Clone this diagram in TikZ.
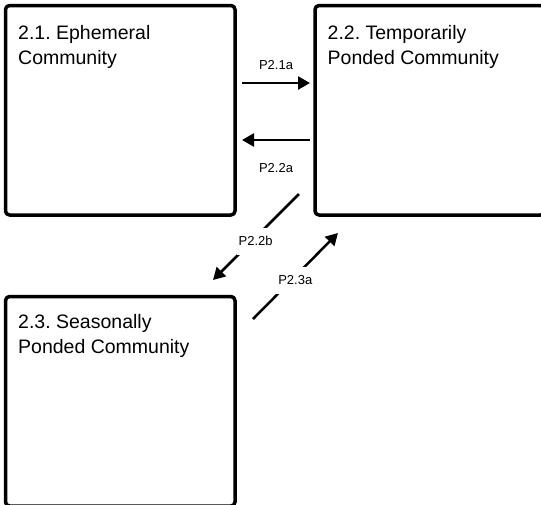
\documentclass[tikz,border=0pt]{standalone}
\usepackage{fontspec}
\setmainfont{Liberation Sans}
\usetikzlibrary{arrows.meta}
\frenchspacing
\begin{document}
\begin{tikzpicture}[x=1pt,y=-1pt,>={Triangle[length=12pt,width=13pt]}, line join=round,
	box/.style={draw,line width=3.5pt,rounded corners=4pt,minimum width=229.5pt,minimum height=209.5pt,inner sep=0pt,outer sep=0pt,anchor=north west},
	title/.style={anchor=north west,align=left,inner sep=0pt,font=\fontsize{19.5}{25}\selectfont},
	flow/.style={->,line width=2.5pt},
	plab/.style={font=\fontsize{13}{15}\selectfont,inner sep=0pt},
	onlab/.style={plab,fill=white,inner xsep=2pt,inner ysep=9pt,xshift=4pt}]
			\useasboundingbox (0,0) rectangle (541,504);
			\clip (0,0) rectangle (541,504);
			% Hộp
			\foreach \n/\x/\y in {ephem/5.5/5.5, temp/315/5.5, seas/5.5/296.5}
			\node[box] (\n) at (\x,\y) {};
			\node[title] (ephemT) at ([shift={(12.5,19.5)}]ephem.north west) {2.1. Ephemeral\\Community};
			\node[title] (tempT) at ([shift={(12.5,19.5)}]temp.north west) {2.2. Temporarily\\Ponded Community};
			\node[title] (seasT) at ([shift={(12.5,17.5)}]seas.north west) {2.3. Seasonally\\Ponded Community};
			% Mũi tên
			\coordinate (p21s) at (242,83); \coordinate (p21e) at (310,83);
			\coordinate (p22s) at (310,140); \coordinate (p22e) at (242,140);
			\coordinate (p22bs) at (299,194); \coordinate (p22be) at (213,280);
			\coordinate (p23s) at (253,319); \coordinate (p23e) at (338,233);
			\draw[flow] (p21s)--(p21e) node[plab,midway,above=12.5pt]{P2.1a};
			\draw[flow] (p22s)--(p22e) node[plab,midway,below=22pt]{P2.2a};
			\draw[flow] (p22bs)--(p22be) node[onlab,pos=0.55]{P2.2b};
			\draw[flow] (p23s)--(p23e) node[onlab,pos=0.45]{P2.3a};
\end{tikzpicture}
\end{document}
